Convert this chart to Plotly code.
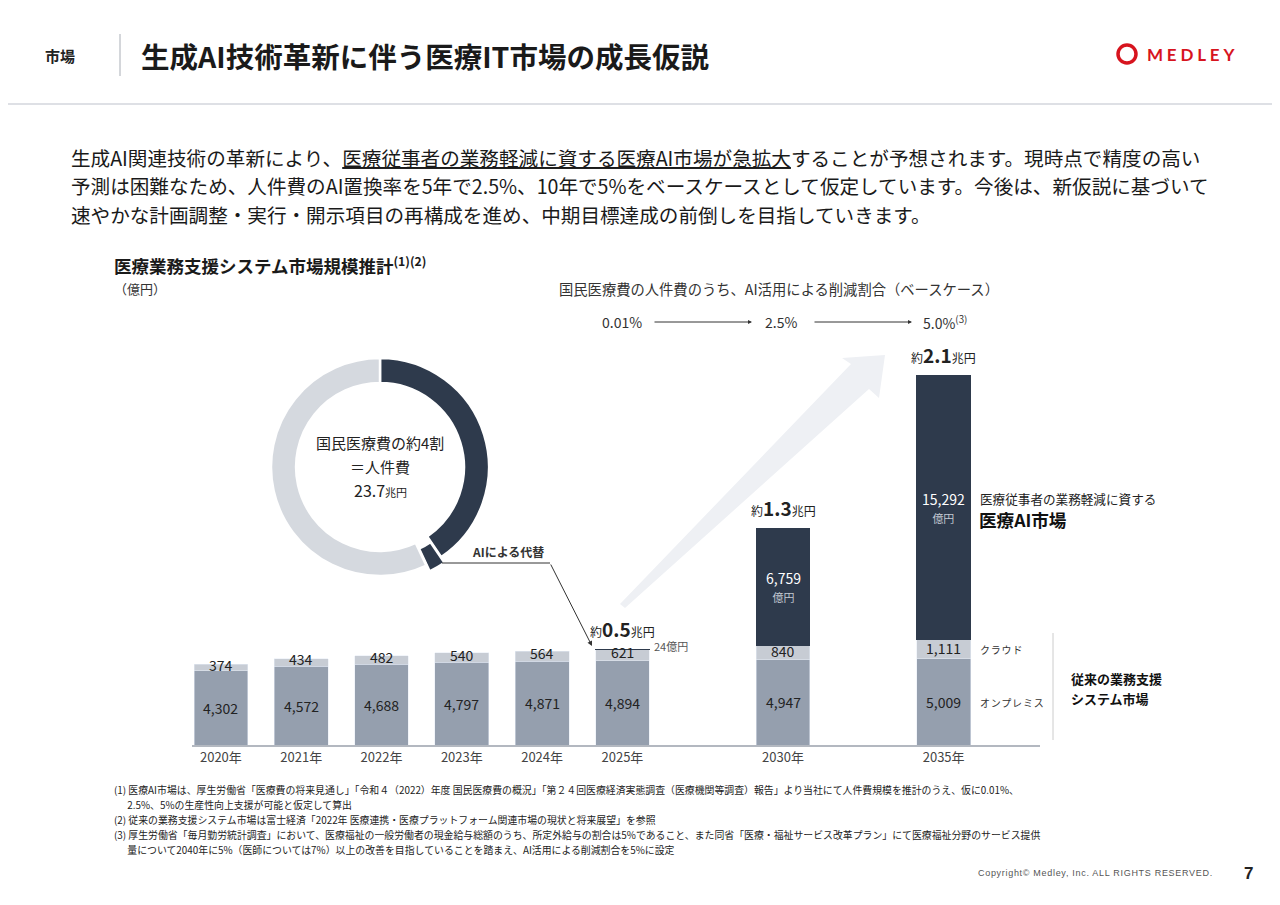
import plotly.graph_objects as go

# the page body keeps an 8px margin, so the figure is drawn 8px smaller and shifted
OFF = 8
W, H = 1280 - OFF, 905 - OFF
FONT = "Noto Sans CJK JP"
NAVY = "#2e3a4c"
GRAY = "#959fae"
LIGHT = "#c7ccd4"
DONUT_LIGHT = "#d5d9df"
TEXT = "#222222"

# data
years = ["2020年", "2021年", "2022年", "2023年", "2024年", "2025年", "2030年", "2035年"]
axis_order = ["2020年", "2021年", "2022年", "2023年", "2024年", "2025年", " ", "2030年", "  ", "2035年"]
onprem = [4302, 4572, 4688, 4797, 4871, 4894, 4947, 5009]
cloud = [374, 434, 482, 540, 564, 621, 840, 1111]
ai_market = [None, None, None, None, None, 24, 6759, 15292]
total_years = ["2025年", "2030年", "2035年"]
total_labels = ["0.5", "1.3", "2.1"]
rate_steps = ["0.01%", "2.5%", "5.0%<sup>(3)</sup>"]
donut_labels = ["人件費", "AIによる代替", "その他"]
donut_values = [40.5, 2.5, 57.0]

paragraph = [
    "生成AI関連技術の革新により、<u>医療従事者の業務軽減に資する医療AI市場が急拡大</u>することが予想されます。現時点で精度の高い",
    "予測は困難なため、人件費のAI置換率を5年で2.5%、10年で5%をベースケースとして仮定しています。今後は、新仮説に基づいて",
    "速やかな計画調整・実行・開示項目の再構成を進め、中期目標達成の前倒しを目指していきます。",
]
footnotes = [
    "(1) 医療AI市場は、厚生労働省「医療費の将来見通し」「令和４（2022）年度 国民医療費の概況」「第２４回医療経済実態調査（医療機関等調査）報告」より当社にて人件費規模を推計のうえ、仮に0.01%、",
    "      2.5%、5%の生産性向上支援が可能と仮定して算出",
    "(2) 従来の業務支援システム市場は富士経済「2022年 医療連携・医療プラットフォーム関連市場の現状と将来展望」を参照",
    "(3) 厚生労働省「毎月勤労統計調査」において、医療福祉の一般労働者の現金給与総額のうち、所定外給与の割合は5%であること、また同省「医療・福祉サービス改革プラン」にて医療福祉分野のサービス提供",
    "      量について2040年に5%（医師については7%）以上の改善を目指していることを踏まえ、AI活用による削減割合を5%に設定",
]


def px(x):
    return (x - OFF) / W


def py(y):
    return 1 - (y - OFF) / H


def text(x, y, s, size=13, color=TEXT, xanchor="left", bold=False, family=FONT):
    if bold:
        s = f"<b>{s}</b>"
    return dict(
        x=px(x), y=py(y), xref="paper", yref="paper", text=s, showarrow=False,
        xanchor=xanchor, yanchor="middle", font=dict(size=size, color=color, family=family),
    )


fig = go.Figure()

fig.add_trace(go.Bar(x=years, y=onprem, marker_color=GRAY, name="オンプレミス"))
fig.add_trace(go.Bar(x=years, y=cloud, marker_color=LIGHT, name="クラウド"))
fig.add_trace(
    go.Bar(x=years, y=ai_market, marker=dict(color=NAVY, line=dict(color=NAVY, width=1)), name="医療AI市場")
)

R = 109 * 1.06
fig.add_trace(
    go.Pie(
        labels=donut_labels,
        values=donut_values,
        hole=0.77,
        sort=False,
        direction="clockwise",
        rotation=0,
        pull=[0, 0.06, 0],
        marker=dict(colors=[NAVY, NAVY, DONUT_LIGHT], line=dict(color="white", width=2.5)),
        textinfo="none",
        hoverinfo="skip",
        showlegend=False,
        domain=dict(x=[px(380 - R), px(380 + R)], y=[py(467 + R), py(467 - R)]),
    )
)

ann = []
# bar labels
for yr, a, b, c in zip(years, onprem, cloud, ai_market):
    ann.append(dict(x=yr, y=a / 2, text=f"{a:,}", showarrow=False,
                    font=dict(size=14, color=TEXT, family=FONT)))
    ann.append(dict(x=yr, y=a + b / 2, text=f"{b:,}", showarrow=False, yshift=1 if b > 700 else 3,
                    font=dict(size=14, color=TEXT, family=FONT)))
    if c and c > 1000:
        ann.append(dict(x=yr, y=a + b + c / 2,
                        text=f"{c:,}<br><span style='font-size:11px;color:#c3c9d2'>億円</span>",
                        showarrow=False, font=dict(size=14, color="white", family=FONT)))
for yr, lab in zip(total_years, total_labels):
    i = years.index(yr)
    tot = onprem[i] + cloud[i] + (ai_market[i] or 0)
    ann.append(dict(x=yr, y=tot, yanchor="bottom", yshift=6, showarrow=False,
                    text=f"約<b><span style='font-size:19px'>{lab}</span></b>兆円",
                    font=dict(size=12, color=TEXT, family=FONT)))
ann.append(dict(x="2025年", y=onprem[5] + cloud[5] + ai_market[5], xanchor="left", yanchor="middle",
                xshift=30, yshift=4, showarrow=False, text=f"{ai_market[5]}億円",
                font=dict(size=11, color="#555555", family=FONT)))

# header
ann.append(text(60, 55, "市場", 15, "#222", "center", bold=True))
ann.append(text(139, 55, "生成AI技術革新に伴う医療IT市場の成長仮説", 28.5, "#1a1a1a", bold=True))
ann.append(text(1145, 54, "<span style='letter-spacing:3.8px'>MEDLEY</span>", 17, "#d7141e", bold=True,
                family="Lato"))

# paragraph
for yy, line in zip([157, 186, 214], paragraph):
    ann.append(text(69, yy, line, 19.6, "#1a1a1a"))

ann.append(text(112, 265, "医療業務支援システム市場規模推計<sup>(1)(2)</sup>", 17.5, "#1a1a1a", bold=True))
ann.append(text(112, 289, "（億円）", 13, "#333"))
ann.append(text(779, 288, "国民医療費の人件費のうち、AI活用による削減割合（ベースケース）", 14.3, "#333", "center"))
for xx, s in zip([622, 781, 945], rate_steps):
    ann.append(text(xx, 322, s, 14, "#333", "center"))
for x0, x1 in [(653, 752), (813, 912)]:
    ann.append(dict(x=px(x1), y=py(322), xref="paper", yref="paper", ax=x0 - x1, ay=0, text="",
                    showarrow=True, arrowhead=2, arrowsize=0.8, arrowwidth=1, arrowcolor="#333"))

# donut centre
ann.append(text(380, 442, "国民医療費の約4割", 15, "#222", "center"))
ann.append(text(380, 466, "＝人件費", 15, "#222", "center"))
ann.append(text(380, 490, "23.7<span style='font-size:11px'>兆円</span>", 16, "#222", "center"))
ann.append(text(508, 551, "AIによる代替", 12, "#333", "center", bold=True))
ann.append(dict(x=px(592), y=py(646), xref="paper", yref="paper", ax=550 - 592, ay=563 - 646, text="",
                showarrow=True, arrowhead=2, arrowsize=1, arrowwidth=1, arrowcolor="#333"))

# right side labels
ann.append(text(978, 498, "医療従事者の業務軽減に資する", 12.6, "#222"))
ann.append(text(977, 519, "医療AI市場", 17.6, "#111", bold=True))
ann.append(text(978, 649, "<span style='letter-spacing:0.8px'>クラウド</span>", 10, "#333"))
ann.append(text(978, 702, "<span style='letter-spacing:0.8px'>オンプレミス</span>", 10, "#333"))
ann.append(text(1069, 678, "従来の業務支援", 13, "#111", bold=True))
ann.append(text(1069, 698, "システム市場", 13, "#111", bold=True))

# footnotes
for yy, line in zip([790, 805, 820, 835, 850], footnotes):
    ann.append(text(112, yy, line, 9.9, "#222"))

ann.append(text(1215, 873, "<span style='letter-spacing:0.7px'>Copyright© Medley, Inc. ALL RIGHTS RESERVED.</span>",
                9, "#555", "right", family="Liberation Sans"))
ann.append(text(1248, 873, "7", 17, "#222", "center", bold=True, family="Liberation Sans"))

arrow_pts = [(620, 604), (851, 364), (842, 358), (885, 355), (879, 398), (869, 389), (625, 608)]
arrow_path = "M " + " L ".join(f"{px(a)},{py(b)}" for a, b in arrow_pts) + " Z"

shapes = [
    dict(type="path", path=arrow_path, xref="paper", yref="paper", fillcolor="#eef0f4",
         line=dict(width=0), layer="below"),
    dict(type="line", x0=px(120), x1=px(120), y0=py(34), y1=py(76), xref="paper", yref="paper",
         line=dict(color="#a9aeb6", width=1)),
    dict(type="line", x0=px(0), x1=1, y0=py(104), y1=py(104), xref="paper", yref="paper",
         line=dict(color="#d3d6dc", width=1.5)),
    dict(type="circle", x0=px(1118), x1=px(1136), y0=py(63), y1=py(45), xref="paper", yref="paper",
         line=dict(color="#d7141e", width=3.5)),
    dict(type="line", x0=px(442), x1=px(550), y0=py(563), y1=py(563), xref="paper", yref="paper",
         line=dict(color="#333", width=1)),
    dict(type="line", x0=px(1053), x1=px(1053), y0=py(633), y1=py(740), xref="paper", yref="paper",
         line=dict(color="#cccccc", width=1)),
]

fig.update_layout(
    width=W, height=H,
    margin=dict(l=0, r=0, t=0, b=0),
    paper_bgcolor="white", plot_bgcolor="rgba(0,0,0,0)",
    barmode="stack", bargap=0.33,
    showlegend=False, hovermode=False,
    font=dict(family=FONT, color=TEXT),
    annotations=ann, shapes=shapes,
    xaxis=dict(
        domain=[px(192), px(1040)], type="category", categoryorder="array", categoryarray=axis_order,
        range=[-0.36, 10.2], showline=True, linecolor="#b3b8c0", linewidth=1.5, ticks="",
        tickfont=dict(size=13, color="#444"), showgrid=False, fixedrange=True,
    ),
    yaxis=dict(
        domain=[py(745), py(345)], range=[0, 23200], visible=False, showgrid=False, fixedrange=True,
    ),
)

fig.write_html("out.html", config={"displayModeBar": False})
